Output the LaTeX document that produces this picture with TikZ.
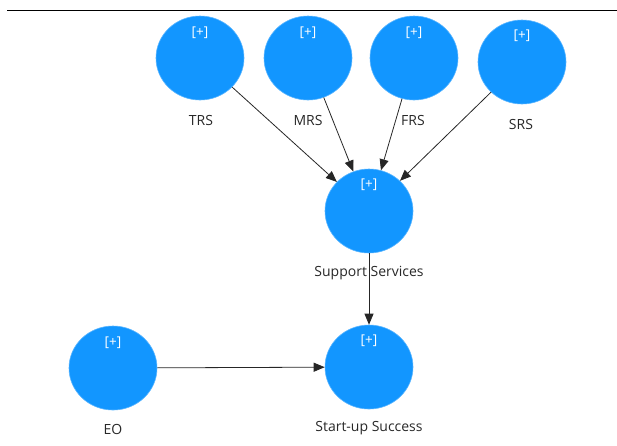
\documentclass[tikz,border=0pt]{standalone}
\usepackage{fontspec}
\setmainfont{Open Sans}
\usetikzlibrary{shapes.geometric,arrows.meta}
\definecolor{nodeblue}{RGB}{18,150,255}
\definecolor{txtgray}{RGB}{40,40,40}
\begin{document}
\begin{tikzpicture}[x=1pt,y=-1pt,
  lv/.style={ellipse,fill=nodeblue,draw=nodeblue!70!white,line width=0.6pt,minimum width=88pt,minimum height=84pt,inner sep=0pt},
  plus/.style={text=white,font=\fontsize{13.5}{15}\selectfont,inner sep=0pt},
  lbl/.style={text=txtgray,font=\fontsize{14}{16}\selectfont,inner sep=0pt},
  conn/.style={draw=black!85,line width=0.8pt,-{Triangle[length=11pt,width=9pt]}}]
\useasboundingbox (0,0) rectangle (617,445);
\coordinate (l1) at (7,10);
\coordinate (l2) at (617,10);
\draw[line width=1pt] (l1) -- (l2);
\node[lv] (trs) at (200,58) {};
\node[lv] (mrs) at (308,58) {};
\node[lv] (frs) at (414,58) {};
\node[lv] (srs) at (522,62) {};
\node[lv] (ss) at (369,211) {};
\node[lv] (sus) at (369,367) {};
\node[lv] (eo) at (113,368) {};
\node[plus] (trsp) at (200,33) {[+]};
\node[plus] (mrsp) at (308,33) {[+]};
\node[plus] (frsp) at (414,33) {[+]};
\node[plus] (srsp) at (522,36) {[+]};
\node[plus] (ssp) at (369,185) {[+]};
\node[plus] (susp) at (369,341) {[+]};
\node[plus] (eop) at (113,343) {[+]};
\node[lbl] (trsl) at (201,120) {TRS};
\node[lbl] (mrsl) at (308,120) {MRS};
\node[lbl] (frsl) at (413,120) {FRS};
\node[lbl] (srsl) at (521,124) {SRS};
\node[lbl] (ssl) at (369,273) {Support Services};
\node[lbl] (susl) at (369,428) {Start-up Success};
\node[lbl] (eol) at (113,429) {EO};
\draw[conn] (trs) -- (ss);
\draw[conn] (mrs) -- (ss);
\draw[conn] (frs) -- (ss);
\draw[conn] (srs) -- (ss);
\draw[conn] (ss) -- (sus);
\draw[conn] (eo) -- (sus);
\end{tikzpicture}
\end{document}
